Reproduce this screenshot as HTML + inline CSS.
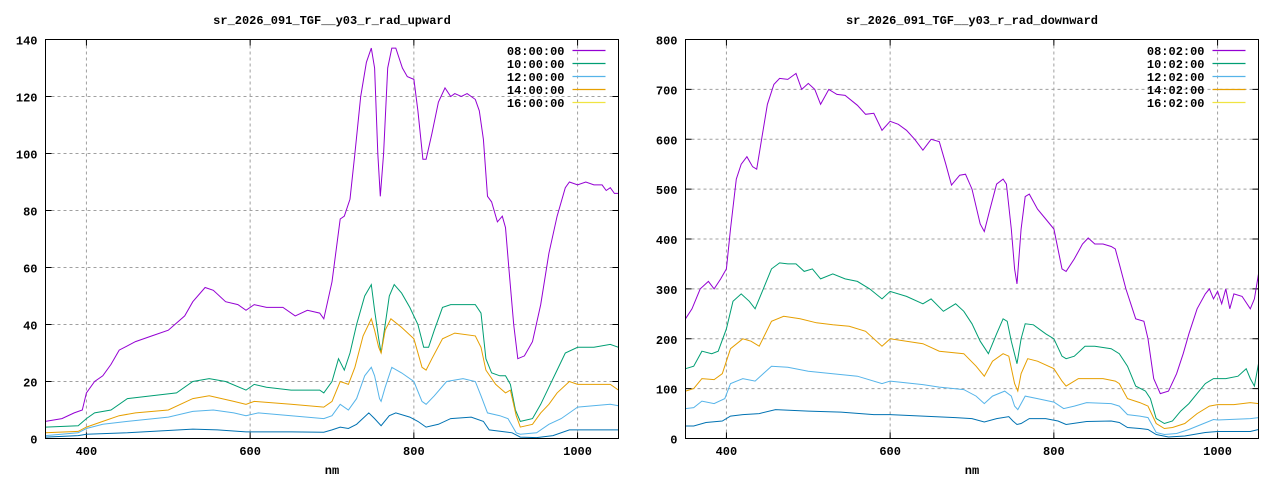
<!DOCTYPE html>
<html><head><meta charset="utf-8"><style>
html,body{margin:0;padding:0;background:#fff;}
svg{display:block;}
text{font-family:"Liberation Mono",monospace;font-size:12px;font-weight:bold;fill:#000;}
</style></head><body>
<svg id="s" width="1280" height="480" xmlns="http://www.w3.org/2000/svg"></svg>
<script>
const C={p:'#9400d3',g:'#009e73',l:'#56b4e9',o:'#e69f00',b:'#0072b2',y:'#f0e442'};
function P(a){const r=[];for(let i=0;i<a.length;i+=2)r.push([a[i],a[i+1]]);return r;}
const L=[
[C.p,P([350,6,370,7,385,9,395,10,400,16,410,20,420,22,430,26,440,31,460,34,480,36,500,38,520,43,530,48,545,53,555,52,570,48,585,47,595,45,605,47,620,46,640,46,655,43,670,45,685,44,690,42,700,55,710,77,715,78,722,84,728,100,735,120,742,132,748,137,752,130,756,100,759,85,763,100,768,130,773,137,778,137,786,130,792,127,800,126,805,115,811,98,815,98,822,107,830,118,838,123,845,120,850,121,858,120,865,121,875,119,880,115,885,105,890,85,895,83,902,76,908,78,912,74,916,60,922,40,927,28,935,29,945,34,955,47,965,65,975,78,985,88,990,90,1000,89,1010,90,1020,89,1030,89,1035,87,1040,88,1045,86,1050,86])],
[C.g,P([350,4,390,4.5,400,7,410,9,430,10,450,14,480,15,510,16,530,20,550,21,570,20,595,17,605,19,620,18,650,17,670,17,685,17,690,16,700,20,708,28,715,24,722,30,730,40,740,50,748,54,752,45,757,35,760,30,765,40,770,50,776,54,785,51,795,46,805,40,812,32,818,32,825,38,835,46,845,47,860,47,875,47,882,44,888,28,895,23,905,22,912,22,918,19,924,10,930,6,945,7,955,12,965,18,975,24,985,30,1000,32,1020,32,1040,33,1050,32])],
[C.o,P([350,2,390,2.5,400,4,420,6,440,8,460,9,500,10,530,14,550,15,580,13,595,12,605,13,650,12,690,11,700,13,710,20,720,19,728,25,738,36,748,42,752,38,757,32,760,30,765,38,772,42,785,39,800,35,810,25,815,24,822,28,835,35,850,37,875,36,882,32,888,24,900,19,912,16,918,17,925,8,930,4,945,5,955,9,965,12,975,16,990,20,1000,19,1040,19,1050,17])],
[C.l,P([350,1,390,2,400,3.5,420,5,450,6,500,7.5,530,9.5,555,10,580,9,595,8,610,9,650,8,690,7,700,8,710,12,720,10,730,14,740,22,748,25,752,22,758,14,760,13,765,18,773,25,785,23,800,20,810,13,815,12,825,15,840,20,860,21,875,20,882,15,890,9,905,8,915,7,925,2,930,1.5,950,2,965,5,980,7,995,10,1000,11,1040,12,1050,11.5])],
[C.b,P([350,0.5,390,1,400,1.5,450,2,530,3.3,560,3,595,2.3,650,2.3,690,2.2,700,3,710,4,720,3.5,730,5,745,9,752,7,760,4.5,770,8,778,9,795,7.5,805,6,815,4,830,5,845,7,870,7.5,885,6,892,3,920,2,930,0.5,950,0.3,970,1,990,3,1050,3])]];
const R=[
[C.p,P([350,240,358,260,368,300,378,315,385,300,393,320,400,340,405,420,412,520,418,550,425,565,432,545,437,540,443,600,450,670,458,710,465,722,475,720,485,732,492,700,500,712,508,700,515,670,525,700,535,690,545,688,560,668,570,650,580,652,590,618,600,636,610,630,620,618,630,600,640,578,650,600,660,595,668,550,675,508,685,528,692,530,700,500,710,430,715,415,722,460,730,510,738,520,742,510,748,420,752,340,755,310,760,420,765,485,770,490,780,460,790,440,800,420,810,340,815,335,825,360,835,390,842,402,850,390,860,390,870,385,875,380,880,350,888,300,900,240,910,235,915,200,922,120,930,90,940,95,950,130,958,170,965,210,975,260,985,290,990,300,995,280,1000,295,1005,270,1010,300,1015,260,1020,290,1030,285,1040,260,1045,280,1050,330])],
[C.g,P([350,140,360,145,370,175,382,170,390,175,400,220,408,275,418,290,428,275,435,260,445,300,455,340,465,352,475,350,485,350,495,335,505,340,515,320,530,330,545,320,560,315,575,300,590,280,600,295,620,285,640,270,650,280,665,255,680,270,690,255,700,230,710,195,720,170,730,210,738,240,743,235,748,195,755,150,760,200,765,230,775,228,790,210,800,200,810,165,815,160,825,165,838,185,850,185,870,180,880,170,890,145,900,105,912,95,918,80,925,40,935,30,945,35,955,55,965,70,975,90,985,110,995,120,1010,120,1025,125,1035,140,1040,120,1045,105,1050,150])],
[C.o,P([350,95,360,100,370,120,385,118,395,130,405,180,420,200,430,195,440,185,455,235,470,245,490,240,510,232,530,228,550,225,570,215,590,185,600,200,640,190,660,175,690,170,705,145,715,125,725,155,738,170,745,165,752,110,756,95,760,130,768,160,780,155,800,140,810,115,815,105,830,120,840,120,860,120,875,115,880,110,890,80,905,72,915,65,925,30,935,20,945,22,960,30,975,50,990,65,1000,68,1020,68,1040,72,1050,70])],
[C.l,P([350,60,360,62,370,75,385,70,398,80,405,110,420,120,435,115,455,145,475,143,500,135,530,130,560,125,590,110,600,115,640,108,660,103,690,98,705,85,715,70,725,85,740,95,748,85,752,65,756,58,765,85,780,80,800,73,812,60,825,65,840,72,870,70,880,65,890,48,905,45,915,42,925,12,935,8,950,10,965,18,980,28,995,38,1000,37,1040,40,1050,42])],
[C.b,P([350,25,360,25,375,32,395,35,405,45,420,48,440,50,460,58,500,55,540,53,580,48,600,48,640,45,680,42,700,40,715,33,730,40,745,44,750,35,755,28,760,30,770,40,790,40,805,35,815,28,840,34,870,35,880,32,890,22,905,20,915,18,925,8,940,3,960,5,985,12,1000,14,1040,14,1050,18])]];
let h='';
function plot(x0,x1,y0,y1,ymax,ystep,title,lt,series){
  const sx=v=>x0+(v-350)/700*(x1-x0), sy=v=>y1-v/ymax*(y1-y0);
  h+=`<text x="${(x0+x1)/2}" y="24" text-anchor="middle" font-size="12">${title}</text>`;
  for(let v=0;v<=ymax;v+=ystep){const y=sy(v);
    if(v>0&&v<ymax)h+=`<line x1="${x0}" x2="${x1}" y1="${y}" y2="${y}" stroke="#a0a0a0" stroke-dasharray="3,3"/>`;
    h+=`<line x1="${x0}" x2="${x0+6}" y1="${y}" y2="${y}" stroke="#000"/><line x1="${x1-6}" x2="${x1}" y1="${y}" y2="${y}" stroke="#000"/>`;
    h+=`<text x="${x0-8}" y="${y+5}" text-anchor="end">${v}</text>`;}
  for(let v=400;v<=1000;v+=200){const x=sx(v);
    h+=`<line x1="${x}" x2="${x}" y1="${y0}" y2="${y1}" stroke="#a0a0a0" stroke-dasharray="3,3"/>`;
    h+=`<line x1="${x}" x2="${x}" y1="${y1-6}" y2="${y1}" stroke="#000"/><line x1="${x}" x2="${x}" y1="${y0}" y2="${y0+6}" stroke="#000"/>`;
    h+=`<text x="${x}" y="455" text-anchor="middle">${v}</text>`;}
  h+=`<text x="${(x0+x1)/2}" y="474" text-anchor="middle">nm</text>`;
  for(const [c,d] of series){h+=`<polyline fill="none" stroke="${c}" stroke-width="1" points="${d.map(p=>sx(p[0]).toFixed(1)+','+sy(p[1]).toFixed(1)).join(' ')}"/>`;}
  const lc=[C.p,C.g,C.l,C.o,C.y];
  for(let i=0;i<5;i++){const y=50.5+i*13;
    h+=`<text x="${x1-54}" y="${y+4.5}" text-anchor="end">${lt[i]}</text>`;
    h+=`<line x1="${x1-46}" x2="${x1-13}" y1="${y}" y2="${y}" stroke="${lc[i]}" stroke-width="1.2"/>`;}
  h+=`<rect x="${x0}" y="${y0}" width="${x1-x0}" height="${y1-y0}" fill="none" stroke="#000"/>`;
}
plot(45.5,618.5,39.5,438.5,140,20,'sr_2026_091_TGF__y03_r_rad_upward',['08:00:00','10:00:00','12:00:00','14:00:00','16:00:00'],L);
plot(685.5,1258.5,39.5,438.5,800,100,'sr_2026_091_TGF__y03_r_rad_downward',['08:02:00','10:02:00','12:02:00','14:02:00','16:02:00'],R);
document.getElementById('s').innerHTML=h;
</script>
</body></html>
